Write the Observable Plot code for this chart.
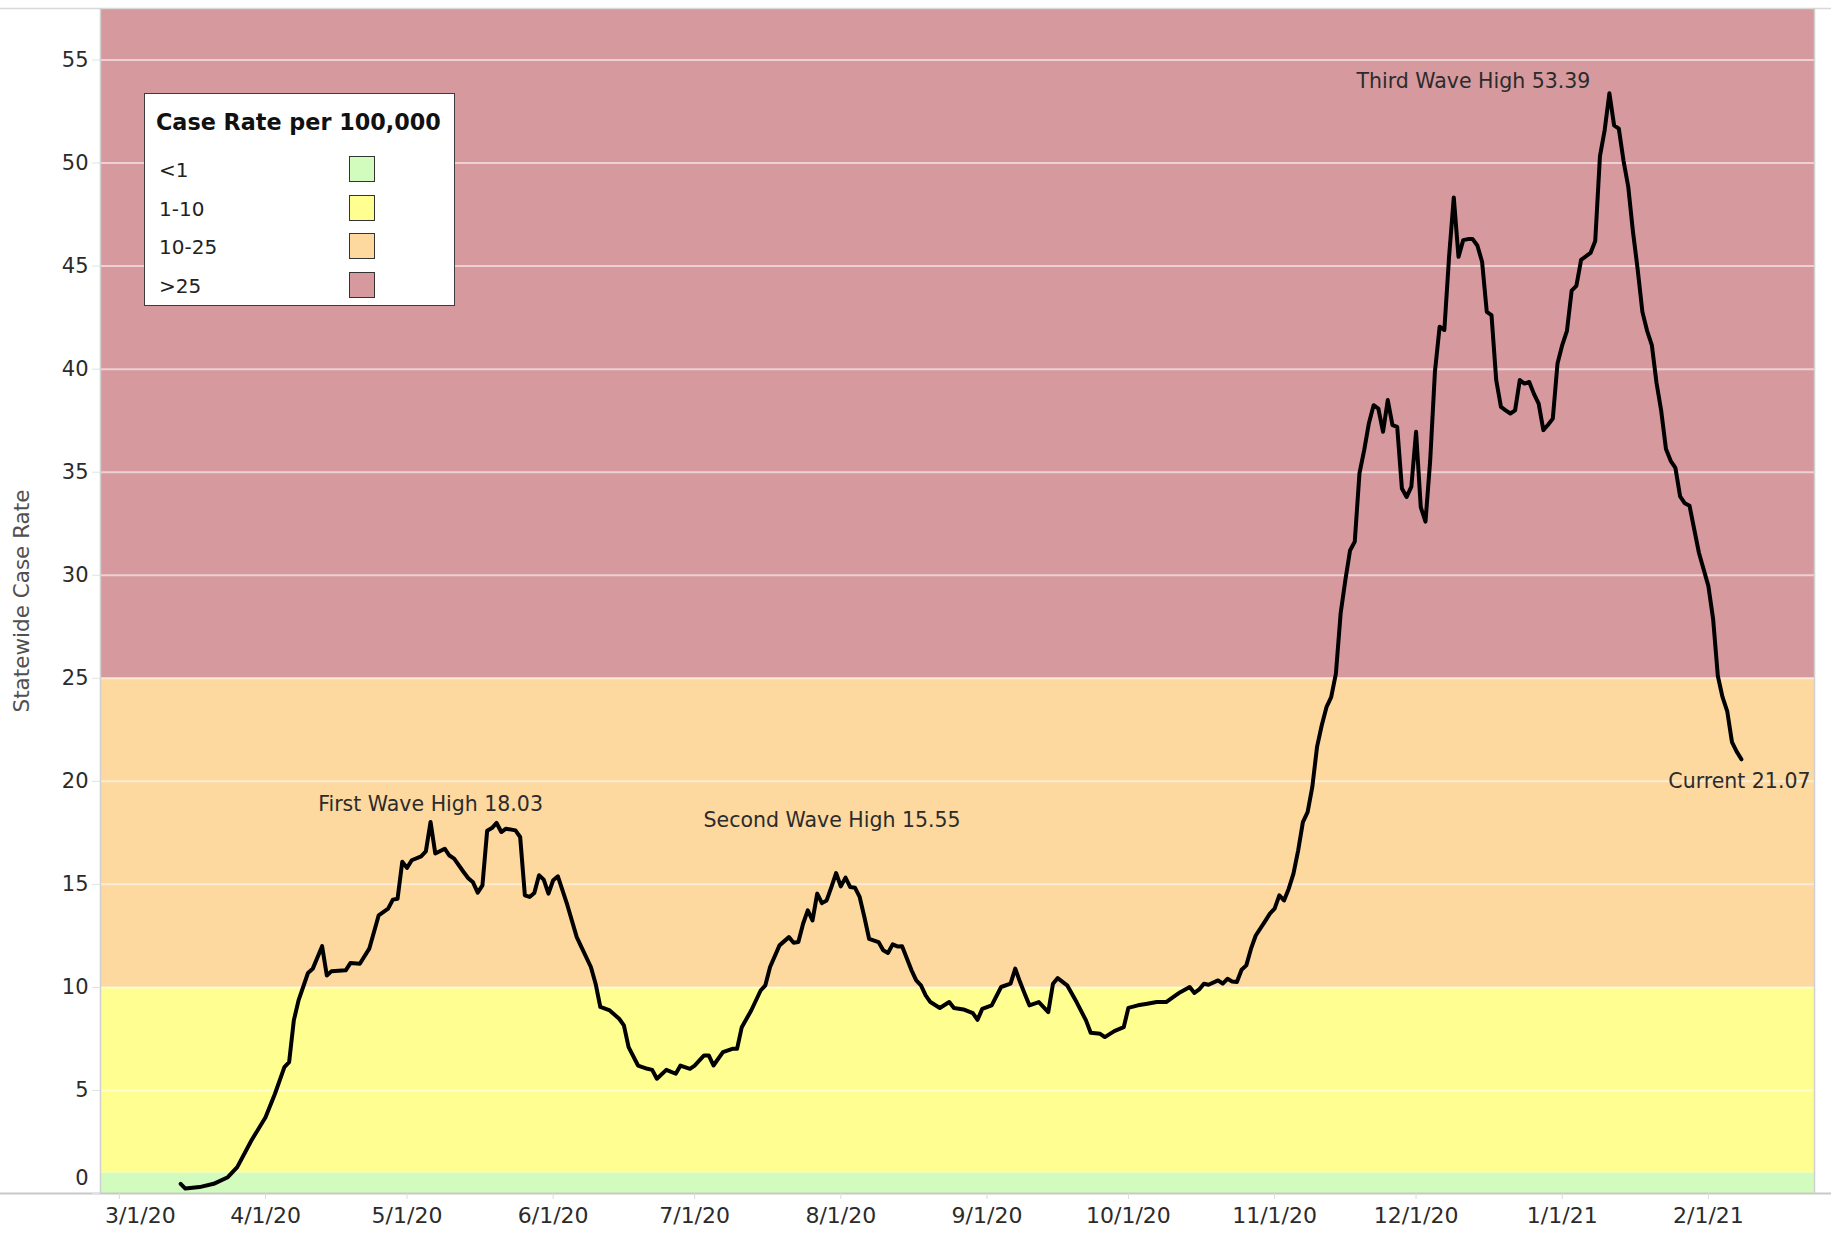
<!DOCTYPE html>
<html>
<head>
<meta charset="utf-8">
<script src="https://cdn.jsdelivr.net/npm/d3@7"></script>
<script src="https://cdn.jsdelivr.net/npm/@observablehq/plot@0.6"></script>
<style>
  html, body { margin: 0; padding: 0; background: #fff; overflow: hidden; }
  #wrap { position: relative; width: 1831px; height: 1234px; }
  #wrap svg { display: block; }
  #legend {
    position: absolute; left: 144px; top: 93px; width: 309px; height: 211px;
    border: 1.5px solid #3c3c3c; background: #fff; font-family: "DejaVu Sans", sans-serif;
  }
  #legend .title { position: absolute; left: 11px; top: 16px; font-size: 22.3px; font-weight: bold; color: #111; line-height: 25px; white-space: nowrap; }
  #legend .row { position: absolute; left: 0; width: 100%; height: 28px; }
  #legend .lab { position: absolute; left: 14px; top: 2px; font-size: 20px; color: #222; line-height: 24px; }
  #legend .sw { position: absolute; left: 204px; top: 0; width: 24px; height: 24px; border: 1.5px solid #333; }
</style>
</head>
<body>
<div id="wrap"></div>
<script>
// ---- Data ----
const dates = [
  "2020-03-14","2020-03-15","2020-03-18","2020-03-21","2020-03-24","2020-03-26","2020-03-29",
  "2020-04-01","2020-04-03","2020-04-05","2020-04-06","2020-04-07","2020-04-08","2020-04-10","2020-04-11",
  "2020-04-13","2020-04-14","2020-04-15","2020-04-18","2020-04-19","2020-04-21","2020-04-23","2020-04-25",
  "2020-04-27","2020-04-28","2020-04-29","2020-04-30","2020-05-01","2020-05-02","2020-05-04","2020-05-05",
  "2020-05-06","2020-05-07","2020-05-09","2020-05-10","2020-05-11","2020-05-13","2020-05-14","2020-05-15",
  "2020-05-16","2020-05-17","2020-05-18","2020-05-19","2020-05-20","2020-05-21","2020-05-22","2020-05-24",
  "2020-05-25","2020-05-26","2020-05-27","2020-05-28","2020-05-29","2020-05-30","2020-05-31","2020-06-01",
  "2020-06-02","2020-06-04","2020-06-06","2020-06-07","2020-06-09","2020-06-10","2020-06-11","2020-06-13",
  "2020-06-15","2020-06-16","2020-06-17","2020-06-19","2020-06-21","2020-06-22","2020-06-23","2020-06-25",
  "2020-06-27","2020-06-28","2020-06-30","2020-07-01","2020-07-03","2020-07-04","2020-07-05","2020-07-07",
  "2020-07-09","2020-07-10","2020-07-11","2020-07-13","2020-07-15","2020-07-16","2020-07-17","2020-07-19",
  "2020-07-21","2020-07-22","2020-07-23","2020-07-24","2020-07-25","2020-07-26","2020-07-27","2020-07-28",
  "2020-07-29","2020-07-30","2020-07-31","2020-08-01","2020-08-02","2020-08-03","2020-08-04","2020-08-05",
  "2020-08-06","2020-08-07","2020-08-09","2020-08-10","2020-08-11","2020-08-12","2020-08-13","2020-08-14",
  "2020-08-16","2020-08-17","2020-08-18","2020-08-19","2020-08-20","2020-08-22","2020-08-24","2020-08-25",
  "2020-08-27","2020-08-29","2020-08-30","2020-08-31","2020-09-02","2020-09-04","2020-09-06","2020-09-07",
  "2020-09-08","2020-09-09","2020-09-10","2020-09-12","2020-09-14","2020-09-15","2020-09-16","2020-09-18",
  "2020-09-20","2020-09-22","2020-09-23","2020-09-25","2020-09-26","2020-09-28","2020-09-30","2020-10-01",
  "2020-10-03","2020-10-05","2020-10-07","2020-10-09","2020-10-11","2020-10-12","2020-10-14","2020-10-15",
  "2020-10-16","2020-10-17","2020-10-18","2020-10-20","2020-10-21","2020-10-22","2020-10-23","2020-10-24",
  "2020-10-25","2020-10-26","2020-10-27","2020-10-28","2020-10-30","2020-10-31","2020-11-01","2020-11-02",
  "2020-11-03","2020-11-04","2020-11-05","2020-11-06","2020-11-07","2020-11-08","2020-11-09","2020-11-10",
  "2020-11-11","2020-11-12","2020-11-13","2020-11-14","2020-11-15","2020-11-16","2020-11-17","2020-11-18",
  "2020-11-19","2020-11-20","2020-11-21","2020-11-22","2020-11-23","2020-11-24","2020-11-25","2020-11-26",
  "2020-11-27","2020-11-28","2020-11-29","2020-11-30","2020-12-01","2020-12-02","2020-12-03","2020-12-04",
  "2020-12-05","2020-12-06","2020-12-07","2020-12-08","2020-12-09","2020-12-10","2020-12-11","2020-12-12",
  "2020-12-13","2020-12-14","2020-12-15","2020-12-16","2020-12-17","2020-12-18","2020-12-19","2020-12-20",
  "2020-12-21","2020-12-22","2020-12-23","2020-12-24","2020-12-25","2020-12-26","2020-12-27","2020-12-28",
  "2020-12-29","2020-12-30","2020-12-31","2021-01-01","2021-01-02","2021-01-03","2021-01-04","2021-01-05",
  "2021-01-07","2021-01-08","2021-01-09","2021-01-10","2021-01-11","2021-01-12","2021-01-13","2021-01-14",
  "2021-01-15","2021-01-16","2021-01-17","2021-01-18","2021-01-19","2021-01-20","2021-01-21","2021-01-22",
  "2021-01-23","2021-01-24","2021-01-25","2021-01-26","2021-01-27","2021-01-28","2021-01-29","2021-01-30",
  "2021-02-01","2021-02-02","2021-02-03","2021-02-04","2021-02-05","2021-02-06","2021-02-07","2021-02-08"
];
const values = [
  0.47,0.24,0.31,0.47,0.79,1.28,2.57,
  3.70,4.84,6.13,6.37,8.40,9.37,10.70,10.90,
  12.00,10.58,10.79,10.83,11.18,11.15,11.88,13.50,
  13.82,14.26,14.30,16.10,15.80,16.17,16.36,16.60,
  18.03,16.50,16.73,16.40,16.25,15.60,15.30,15.10,
  14.60,14.95,17.60,17.73,17.98,17.54,17.70,17.62,
  17.30,14.47,14.39,14.58,15.44,15.23,14.55,15.20,
  15.39,14.00,12.44,11.96,10.99,10.18,9.05,8.88,
  8.48,8.16,7.10,6.21,6.05,6.00,5.57,6.00,
  5.81,6.21,6.05,6.21,6.70,6.70,6.21,6.86,
  7.02,7.02,8.07,8.88,9.85,10.10,10.99,12.04,
  12.44,12.17,12.20,13.09,13.74,13.25,14.55,14.09,
  14.22,14.87,15.55,14.90,15.33,14.87,14.84,14.39,
  13.42,12.36,12.20,11.80,11.67,12.09,11.99,12.00,
  10.83,10.34,10.10,9.61,9.29,9.00,9.29,9.00,
  8.93,8.75,8.43,8.96,9.13,10.02,10.18,10.91,
  10.27,9.69,9.13,9.29,8.80,10.18,10.45,10.10,
  9.29,8.40,7.80,7.75,7.59,7.88,8.07,9.01,
  9.13,9.21,9.29,9.29,9.61,9.77,10.02,9.73,
  9.90,10.18,10.13,10.34,10.18,10.42,10.29,10.26,
  10.86,11.07,11.88,12.52,13.22,13.58,13.82,14.47,
  14.22,14.79,15.52,16.65,18.02,18.51,19.73,21.67,
  22.72,23.60,24.09,25.23,28.14,29.76,31.20,31.63,
  34.95,36.07,37.38,38.25,38.09,36.96,38.50,37.28,
  37.20,34.21,33.80,34.30,36.96,33.30,32.60,35.58,
  39.87,42.06,41.90,45.45,48.33,45.45,46.26,46.31,
  46.31,46.00,45.21,42.78,42.62,39.47,38.17,38.00,
  37.85,38.00,39.47,39.30,39.38,38.80,38.33,37.04,
  37.30,37.60,40.28,41.17,41.86,43.81,44.04,45.30,
  45.64,46.22,50.34,51.60,53.39,51.83,51.67,50.11,
  48.85,46.67,44.84,42.78,41.86,41.17,39.33,37.96,
  36.12,35.55,35.21,33.83,33.49,33.37,32.22,31.08,
  29.47,27.87,25.11,24.08,23.39,21.90,21.44,21.07
];
const yTicks = [0, 5, 10, 15, 20, 25, 30, 35, 40, 45, 50, 55];
const monthTicks = ["2020-03-01","2020-04-01","2020-05-01","2020-06-01","2020-07-01","2020-08-01",
  "2020-09-01","2020-10-01","2020-11-01","2020-12-01","2021-01-01","2021-02-01"];
const xDomain = ["2020-02-26T00:00Z", "2021-02-23T12:00Z"];
const yMax = 57.5;
const bandLower = [0, 1, 10, 25];
const bandUpper = [1, 10, 25, yMax];
const legendTitle = "Case Rate per 100,000";
const legendLabels = ["<1", "1-10", "10-25", ">25"];
const annLabels = ["First Wave High", "Second Wave High", "Third Wave High", "Current"];
const annDates = ["2020-05-06", "2020-07-31", "2021-01-11", "2021-02-08"];
const annValues = [18.03, 15.55, 53.39, 21.07];
const yTitle = "Statewide Case Rate";

// ---- Styles ----
const bandColors = ["#d2fcbe", "#ffff91", "#fdd89f", "#d6999e"];
const annOffsets = [
  {dx: 0, dy: -17, textAnchor: "middle"},
  {dx: -4, dy: -53, textAnchor: "middle"},
  {dx: -19, dy: -12, textAnchor: "end"},
  {dx: -2, dy: 22, textAnchor: "middle"}
];

// ---- Build ----
const series = dates.map((d, i) => ({date: new Date(d), value: values[i]}));
const bands = bandLower.map((lo, i) => ({lo, hi: bandUpper[i]}));
const ticksX = monthTicks.map(d => new Date(d));
const annos = annDates.map((d, i) => ({date: new Date(d), value: annValues[i], label: `${annLabels[i]} ${annValues[i].toFixed(2)}`}));
const fmt = d3.utcFormat("%-m/%-d/%y");

const chart = Plot.plot({
  width: 1831,
  height: 1234,
  marginLeft: 100,
  marginRight: 17,
  marginTop: 8,
  marginBottom: 41,
  style: {fontFamily: "DejaVu Sans, sans-serif", fontSize: "21px", color: "#2b2b2b", background: "transparent"},
  x: {type: "utc", domain: xDomain.map(d => new Date(d)), label: null},
  y: {domain: [0, yMax], label: null},
  marks: [
    ...bands.map((b, i) => Plot.rect([b], {y1: "lo", y2: "hi", fill: bandColors[i]})),
    Plot.ruleY(yTicks.filter(v => v > 0), {stroke: "#ffffff", strokeOpacity: 0.55, strokeWidth: 2}),
    Plot.ruleY([0], {stroke: "#c8c8c8", strokeWidth: 2, insetLeft: -100, insetRight: -17}),
    Plot.ruleY([yMax], {stroke: "#d8d8d8", strokeWidth: 1.5, insetLeft: -100, insetRight: -17}),
    Plot.ruleX([new Date(xDomain[0])], {stroke: "#d0d0d0", strokeWidth: 1.5}),
    Plot.ruleX([new Date(xDomain[1])], {stroke: "#d0d0d0", strokeWidth: 1.5}),
    Plot.axisY(yTicks, {tickSize: 8, tickFormat: () => "", color: "#e2e2e2"}),
    Plot.axisY(yTicks.filter(v => v > 0), {tickSize: 0, tickPadding: 12, fontSize: 21, color: "#2b2b2b"}),
    Plot.axisY([0], {tickSize: 0, tickPadding: 12, fontSize: 21, color: "#2b2b2b", dy: -15}),
    Plot.axisX(ticksX, {tickSize: 6, tickFormat: () => "", color: "#dcdcdc"}),
    Plot.axisX(ticksX.slice(1), {tickSize: 0, tickPadding: 14, tickFormat: fmt, fontSize: 22, color: "#2b2b2b"}),
    Plot.axisX(ticksX.slice(0, 1), {tickSize: 0, tickPadding: 14, tickFormat: fmt, fontSize: 22, color: "#2b2b2b", dx: 21}),
    Plot.text([yTitle], {text: d => d, frameAnchor: "left", textAnchor: "middle", rotate: -90, dx: -78, fontSize: 21.5, fill: "#505050"}),
    Plot.line(series, {x: "date", y: "value", stroke: "#000", strokeWidth: 4, strokeLinejoin: "round", strokeLinecap: "round"}),
    ...annos.map((a, i) => Plot.text([a], {x: "date", y: "value", text: "label", lineAnchor: "middle", fontSize: 20.5, fill: "#2b2b2b", ...annOffsets[i]}))
  ]
});

const wrap = document.getElementById("wrap");
wrap.append(chart);

// Legend (HTML overlay inside the plot area, as in the reference)
const legend = document.createElement("div");
legend.id = "legend";
const t = document.createElement("div");
t.className = "title";
t.textContent = legendTitle;
legend.append(t);
legendLabels.forEach((lab, i) => {
  const row = document.createElement("div");
  row.className = "row";
  row.style.top = (62 + i * 38.7) + "px";
  const l = document.createElement("div");
  l.className = "lab";
  l.textContent = lab;
  const s = document.createElement("div");
  s.className = "sw";
  s.style.background = bandColors[i];
  row.append(l, s);
  legend.append(row);
});
wrap.append(legend);
</script>
</body>
</html>
